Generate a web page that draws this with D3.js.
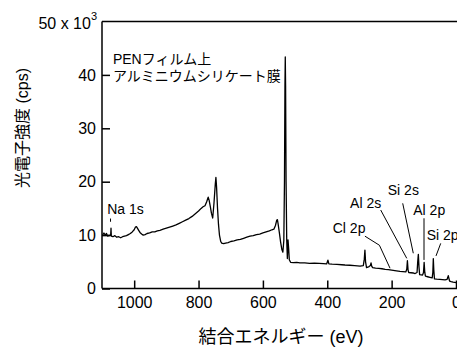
<!DOCTYPE html>
<html><head><meta charset="utf-8">
<script src="https://cdn.jsdelivr.net/npm/d3@7"></script>
<style>
body{margin:0;background:#fff;overflow:hidden}
svg{display:block}
text{font-family:"Liberation Sans","Noto Sans CJK JP",Arial,sans-serif;fill:#000}
</style>
</head><body>
<svg id="c" width="457" height="347"></svg>
<script>
// Binding energy (eV)
const energy = [1098,1094,1090,1086,1082,1078,1075,1073,1072,1071,1066,1060,1054,1048,1042,1036,1030,1024,1018,1012,1006,1000,996,993,990,986,982,977,972,966,960,952,944,936,928,920,910,900,890,880,870,860,850,840,830,820,810,800,792,786,780,775,770,767,763,760,756,752,748,746,744,741,738,735,731,728,722,716,708,700,690,680,670,660,650,640,630,620,610,600,590,580,572,566,561,557,555,553,549,545,541,538,535,533,531.5,530.5,529.5,528,526,524,522,520,518,514,505,495,485,470,455,440,425,412,402,398,395,385,370,355,345,330,315,298,288,285,283,281,278,274,270,266,264,262,259,250,240,230,220,210,205,195,185,174,165,156,153,151,149,147,140,132,127,121,119,117,115,113,108,104,101,99,97,95,88,81,74,72,70.5,69,67,60,50,42,34,28,26,24,22,20,15,9,4,0];
// Photoelectron intensity (x10^3 cps)
const counts = [10.0,10.4,10.0,10.3,9.8,10.0,9.9,10.0,11.3,9.8,9.7,9.9,9.6,9.7,9.5,9.7,9.8,9.9,10.1,10.3,10.6,11.0,11.5,11.6,11.3,10.9,10.5,10.2,10.0,10.1,10.3,10.4,10.6,10.6,10.8,10.9,11.1,11.3,11.5,11.7,11.9,12.2,12.5,12.8,13.1,13.5,14.0,14.5,15.0,15.3,15.5,16.2,17.1,16.5,15.2,14.1,13.2,16.0,19.5,20.8,19.0,15.0,12.0,10.0,8.8,8.5,8.4,8.5,8.6,8.8,8.9,9.1,9.2,9.4,9.6,9.8,9.9,10.1,10.2,10.4,10.6,10.8,11.0,11.1,11.8,12.8,12.9,12.2,10.5,8.7,7.3,6.8,9.0,20,38,43.35,38,20,9,5.6,9.1,7.5,5.4,4.9,4.85,4.9,4.8,4.8,4.7,4.75,4.7,4.65,4.6,5.3,4.6,4.55,4.5,4.45,4.4,4.35,4.3,4.2,4.3,5.5,7.2,5.0,3.9,4.0,4.1,4.3,4.8,4.2,3.9,3.8,3.75,3.7,3.6,3.55,3.5,3.4,3.3,3.2,3.15,3.1,3.6,5.2,3.5,3.0,2.95,2.9,2.8,3.0,5.0,6.4,4.0,2.6,2.55,2.5,3.0,4.9,3.0,2.3,2.2,2.1,2.0,3.0,5.6,3.5,1.8,1.75,1.7,1.65,1.6,1.7,2.0,2.4,1.9,1.4,1.3,1.2,1.15,1.1];

const xTicks = [1000,800,600,400,200,0];
const yTicks = [0,10,20,30,40];
const peakNames = ["Na 1s","Cl 2p","Al 2s","Si 2s","Al 2p","Si 2p"];
// label anchor (eV, k) and leader polyline (eV,k pairs)
const peakTextEV = [1084,383,329,212,132.7,91];
const peakTextK  = [14.0,10.4,15.1,17.6,13.8,9.1];
const peakLeaders = [
  [[1073.5,13.1],[1073.5,12.5]],
  [[283,9.8],[238,8.1],[205,3.8]],
  [[234,14.7],[153,5.65]],
  [[165.6,15.95],[132.7,6.6]],
  [[99.4,13.15],[99.4,5.35]],
  [[47.5,8.45],[62.1,6.1]]
];
const sampleLines = ["PENフィルム上","アルミニウムシリケート膜"];

const svg = d3.select("#c");
const x = d3.scaleLinear().domain([1100,0]).range([102,456]);
const y = d3.scaleLinear().domain([0,50]).range([288.5,21.5]);

// frame
svg.append("line").attr("x1",102).attr("x2",470).attr("y1",y(50)).attr("y2",y(50)).attr("stroke","#000").attr("stroke-width",1.5);
svg.append("line").attr("x1",102).attr("x2",470).attr("y1",y(0)).attr("y2",y(0)).attr("stroke","#000").attr("stroke-width",1.5);
svg.append("line").attr("x1",102).attr("x2",102).attr("y1",y(50)).attr("y2",y(0)).attr("stroke","#000").attr("stroke-width",1.5);

const xAxis = svg.append("g").attr("transform",`translate(0,${y(0)})`)
  .call(d3.axisBottom(x).tickValues(xTicks).tickFormat(d3.format("d")).tickSizeInner(-8).tickSizeOuter(0).tickPadding(8));
xAxis.select(".domain").remove();
xAxis.selectAll("line").attr("stroke","#000").attr("stroke-width",1.5);
xAxis.selectAll("text").style("font-size","16px").style("font-family",null);

const yAxis = svg.append("g").attr("transform",`translate(102,0)`)
  .call(d3.axisLeft(y).tickValues(yTicks).tickFormat(d3.format("d")).tickSizeInner(-8).tickSizeOuter(0).tickPadding(6));
yAxis.select(".domain").remove();
yAxis.selectAll("line").attr("stroke","#000").attr("stroke-width",1.5);
yAxis.selectAll("text").style("font-size","16px").style("font-family",null);

const t50 = svg.append("text").attr("x",97).attr("y",y(50)+7.5).attr("text-anchor","end").style("font-size","16px");
t50.append("tspan").text("50 x 10");
t50.append("tspan").attr("dy",-9).style("font-size","11px").text("3");

// spectrum
const pts = energy.map((e,i)=>[e,counts[i]]);
svg.append("path").datum(pts)
  .attr("d", d3.line().x(d=>x(d[0])).y(d=>y(d[1])))
  .attr("fill","none").attr("stroke","#000").attr("stroke-width",1.3).attr("stroke-linejoin","round");

// peak labels
peakNames.forEach((n,i)=>{
  svg.append("text").attr("x",x(peakTextEV[i])).attr("y",y(peakTextK[i])).style("font-size","14px").text(n);
  svg.append("path").datum(peakLeaders[i])
    .attr("d", d3.line().x(d=>x(d[0])).y(d=>y(d[1])))
    .attr("fill","none").attr("stroke","#000").attr("stroke-width",1);
});

// sample annotation
svg.append("text").attr("x",x(1066)).attr("y",y(42.0)).style("font-size","14px").text(sampleLines[0]);
svg.append("text").attr("x",x(1066)).attr("y",y(38.9)).style("font-size","14px").text(sampleLines[1]);

// axis titles
svg.append("text").attr("x",281).attr("y",343).attr("text-anchor","middle").style("font-size","18px").text("結合エネルギー (eV)");
svg.append("text").attr("transform","translate(22,128) rotate(-90)").attr("text-anchor","middle").attr("dominant-baseline","central").style("font-size","16px").text("光電子強度 (cps)");
</script>
</body></html>
